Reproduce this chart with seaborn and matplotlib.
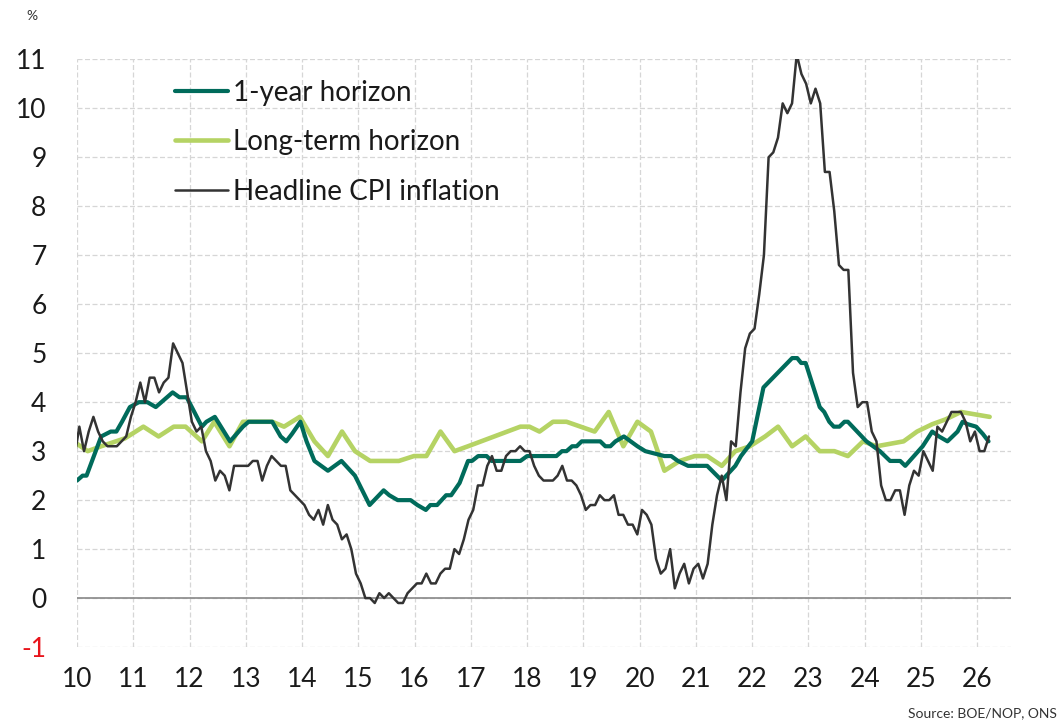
import numpy as np
import pandas as pd
import matplotlib
matplotlib.use("Agg")
import matplotlib.pyplot as plt
import seaborn as sns

# Headline CPI inflation, monthly % y/y, Dec 2009 .. Mar 2026
cpi_start_year = 2009
cpi_start_month = 12
cpi_values = [
    2.9,
    3.5, 3.0, 3.4, 3.7, 3.4, 3.2, 3.1, 3.1, 3.1, 3.2, 3.3, 3.7,   # 2010
    4.0, 4.4, 4.0, 4.5, 4.5, 4.2, 4.4, 4.5, 5.2, 5.0, 4.8, 4.2,   # 2011
    3.6, 3.4, 3.5, 3.0, 2.8, 2.4, 2.6, 2.5, 2.2, 2.7, 2.7, 2.7,   # 2012
    2.7, 2.8, 2.8, 2.4, 2.7, 2.9, 2.8, 2.7, 2.7, 2.2, 2.1, 2.0,   # 2013
    1.9, 1.7, 1.6, 1.8, 1.5, 1.9, 1.6, 1.5, 1.2, 1.3, 1.0, 0.5,   # 2014
    0.3, 0.0, 0.0, -0.1, 0.1, 0.0, 0.1, 0.0, -0.1, -0.1, 0.1, 0.2,  # 2015
    0.3, 0.3, 0.5, 0.3, 0.3, 0.5, 0.6, 0.6, 1.0, 0.9, 1.2, 1.6,   # 2016
    1.8, 2.3, 2.3, 2.7, 2.9, 2.6, 2.6, 2.9, 3.0, 3.0, 3.1, 3.0,   # 2017
    3.0, 2.7, 2.5, 2.4, 2.4, 2.4, 2.5, 2.7, 2.4, 2.4, 2.3, 2.1,   # 2018
    1.8, 1.9, 1.9, 2.1, 2.0, 2.0, 2.1, 1.7, 1.7, 1.5, 1.5, 1.3,   # 2019
    1.8, 1.7, 1.5, 0.8, 0.5, 0.6, 1.0, 0.2, 0.5, 0.7, 0.3, 0.6,   # 2020
    0.7, 0.4, 0.7, 1.5, 2.1, 2.5, 2.0, 3.2, 3.1, 4.2, 5.1, 5.4,   # 2021
    5.5, 6.2, 7.0, 9.0, 9.1, 9.4, 10.1, 9.9, 10.1, 11.1, 10.7, 10.5,  # 2022
    10.1, 10.4, 10.1, 8.7, 8.7, 7.9, 6.8, 6.7, 6.7, 4.6, 3.9, 4.0,    # 2023
    4.0, 3.4, 3.2, 2.3, 2.0, 2.0, 2.2, 2.2, 1.7, 2.3, 2.6, 2.5,   # 2024
    3.0, 2.8, 2.6, 3.5, 3.4, 3.6, 3.8, 3.8, 3.8, 3.6, 3.2, 3.4,   # 2025
    3.0, 3.0, 3.3,                                                # 2026
]

# Median expected inflation, 1-year horizon (survey), %
one_year_dates = [
    2010.00, 2010.10, 2010.17, 2010.43, 2010.60, 2010.70, 2010.80, 2010.94,
    2011.10, 2011.25, 2011.40, 2011.70, 2011.82, 2011.95, 2012.22, 2012.30,
    2012.45, 2012.72, 2012.95, 2013.05, 2013.47, 2013.62, 2013.72, 2013.82,
    2013.97, 2014.08, 2014.22, 2014.34, 2014.46, 2014.58, 2014.70, 2014.94,
    2015.20, 2015.45, 2015.55, 2015.70, 2015.93, 2016.05, 2016.20, 2016.28,
    2016.40, 2016.56, 2016.65, 2016.80, 2016.95, 2017.02, 2017.13, 2017.28,
    2017.37, 2017.88, 2018.00, 2018.52, 2018.62, 2018.70, 2018.80, 2018.88,
    2018.97, 2019.30, 2019.39, 2019.48, 2019.57, 2019.72, 2019.84, 2019.96,
    2020.10, 2020.44, 2020.56, 2020.68, 2020.86, 2021.20, 2021.46, 2021.70,
    2021.80, 2022.00, 2022.20, 2022.71, 2022.80, 2022.87, 2022.95, 2023.20,
    2023.28, 2023.37, 2023.45, 2023.55, 2023.64, 2023.70, 2024.03, 2024.27,
    2024.45, 2024.63, 2024.72, 2025.03, 2025.20, 2025.32, 2025.47, 2025.65,
    2025.74, 2025.83, 2025.98, 2026.10, 2026.20,
]
one_year_values = [
    2.4, 2.5, 2.5, 3.3, 3.4, 3.4, 3.6, 3.9,
    4.0, 4.0, 3.9, 4.2, 4.1, 4.1, 3.5, 3.6,
    3.7, 3.2, 3.5, 3.6, 3.6, 3.3, 3.2, 3.35,
    3.6, 3.2, 2.8, 2.7, 2.6, 2.7, 2.8, 2.5,
    1.9, 2.2, 2.1, 2.0, 2.0, 1.9, 1.8, 1.9,
    1.9, 2.1, 2.1, 2.35, 2.8, 2.8, 2.9, 2.9,
    2.8, 2.8, 2.9, 2.9, 3.0, 3.0, 3.1, 3.1,
    3.2, 3.2, 3.1, 3.1, 3.2, 3.3, 3.2, 3.1,
    3.0, 2.9, 2.9, 2.8, 2.7, 2.7, 2.4, 2.7,
    2.9, 3.2, 4.3, 4.9, 4.9, 4.8, 4.8, 3.9,
    3.8, 3.6, 3.5, 3.5, 3.6, 3.6, 3.2, 3.0,
    2.8, 2.8, 2.7, 3.1, 3.4, 3.3, 3.2, 3.4,
    3.6, 3.55, 3.5, 3.35, 3.2,
]

# Median expected inflation, long-term horizon (survey), %
long_term_dates = [
    2010.00, 2010.19, 2010.43, 2010.85, 2011.18, 2011.45, 2011.72, 2011.93,
    2012.22, 2012.44, 2012.71, 2012.95, 2013.47, 2013.68, 2013.96, 2014.22,
    2014.46, 2014.71, 2014.94, 2015.21, 2015.72, 2015.99, 2016.21, 2016.46,
    2016.71, 2016.95, 2017.88, 2018.04, 2018.22, 2018.46, 2018.70, 2019.20,
    2019.45, 2019.71, 2019.96, 2020.20, 2020.44, 2020.71, 2020.98, 2021.20,
    2021.46, 2021.70, 2021.96, 2022.23, 2022.46, 2022.71, 2022.95, 2023.20,
    2023.46, 2023.70, 2023.97, 2024.21, 2024.45, 2024.69, 2024.93, 2025.20,
    2025.44, 2025.71, 2026.22,
]
long_term_values = [
    3.15, 3.0, 3.1, 3.26, 3.5, 3.3, 3.5, 3.5,
    3.2, 3.6, 3.1, 3.6, 3.6, 3.5, 3.7, 3.2,
    2.9, 3.4, 3.0, 2.8, 2.8, 2.9, 2.9, 3.4,
    3.0, 3.1, 3.5, 3.5, 3.4, 3.6, 3.6, 3.4,
    3.8, 3.1, 3.6, 3.4, 2.6, 2.8, 2.9, 2.9,
    2.7, 3.0, 3.1, 3.3, 3.5, 3.1, 3.3, 3.0,
    3.0, 2.9, 3.2, 3.1, 3.15, 3.2, 3.4, 3.55,
    3.65, 3.8, 3.7,
]

year_ticks = list(range(2010, 2027))
year_labels = [f"{y % 100:02d}" for y in year_ticks]
y_ticks = list(range(-1, 12))

TEAL = "#006B5B"
LIME = "#B5D364"
GREY = "#333333"

# month positions at mid-month in decimal years
cpi_dates = [cpi_start_year + (cpi_start_month - 0.5) / 12 + i / 12
             for i in range(len(cpi_values))]

df_one = pd.DataFrame({"date": one_year_dates, "value": one_year_values})
df_long = pd.DataFrame({"date": long_term_dates, "value": long_term_values})
df_cpi = pd.DataFrame({"date": cpi_dates, "value": cpi_values})

sns.set_theme(style="white")
plt.rcParams["font.family"] = ["Lato", "DejaVu Sans"]

fig = plt.figure(figsize=(10.59, 7.23), dpi=100)
ax = fig.add_axes([0.0727, 0.105, 0.882, 0.813])

sns.lineplot(data=df_one, x="date", y="value", ax=ax, color=TEAL,
             linewidth=3.0, label="1-year horizon", sort=False,
             solid_capstyle="round", zorder=4)
sns.lineplot(data=df_long, x="date", y="value", ax=ax, color=LIME,
             linewidth=3.3, label="Long-term horizon", sort=False,
             solid_capstyle="round", zorder=3)
sns.lineplot(data=df_cpi, x="date", y="value", ax=ax, color=GREY,
             linewidth=1.8, label="Headline CPI inflation", sort=False,
             zorder=5)

ax.set_xlim(2010, 2026.6)
ax.set_ylim(-1, 11)
ax.set_xticks(year_ticks)
ax.set_xticklabels(year_labels)
ax.set_yticks(y_ticks)
ax.set_yticklabels([str(v) for v in y_ticks])
ax.set_xlabel("")
ax.set_ylabel("")

ax.grid(True, which="major", color="#d6d6d6", linestyle=(0, (4, 2)),
        linewidth=0.9)
ax.set_axisbelow(True)
ax.axhline(0, color="#888888", linewidth=1.2, zorder=2)
for side in ["top", "right", "bottom", "left"]:
    ax.spines[side].set_visible(False)

ax.tick_params(axis="both", length=0, labelsize=19, colors="#1a1a1a")
ax.tick_params(axis="y", pad=22)
ax.tick_params(axis="x", pad=14)
for lbl, v in zip(ax.get_yticklabels(), y_ticks):
    if v < 0:
        lbl.set_color("#e8141b")

leg = ax.legend(loc="upper left", bbox_to_anchor=(0.105, 0.965),
                frameon=False, fontsize=20, handlelength=1.9,
                handletextpad=0.2, labelspacing=0.84, borderpad=0,
                borderaxespad=0)
for t in leg.get_texts():
    t.set_color("#1a1a1a")

fig.text(0.03, 0.978, "%", fontsize=10, ha="center", va="center",
         color="#333333")
fig.text(0.998, 0.014, "Source: BOE/NOP, ONS", fontsize=10, ha="right",
         va="center", color="#333333")

fig.savefig("out.png", dpi=100)
